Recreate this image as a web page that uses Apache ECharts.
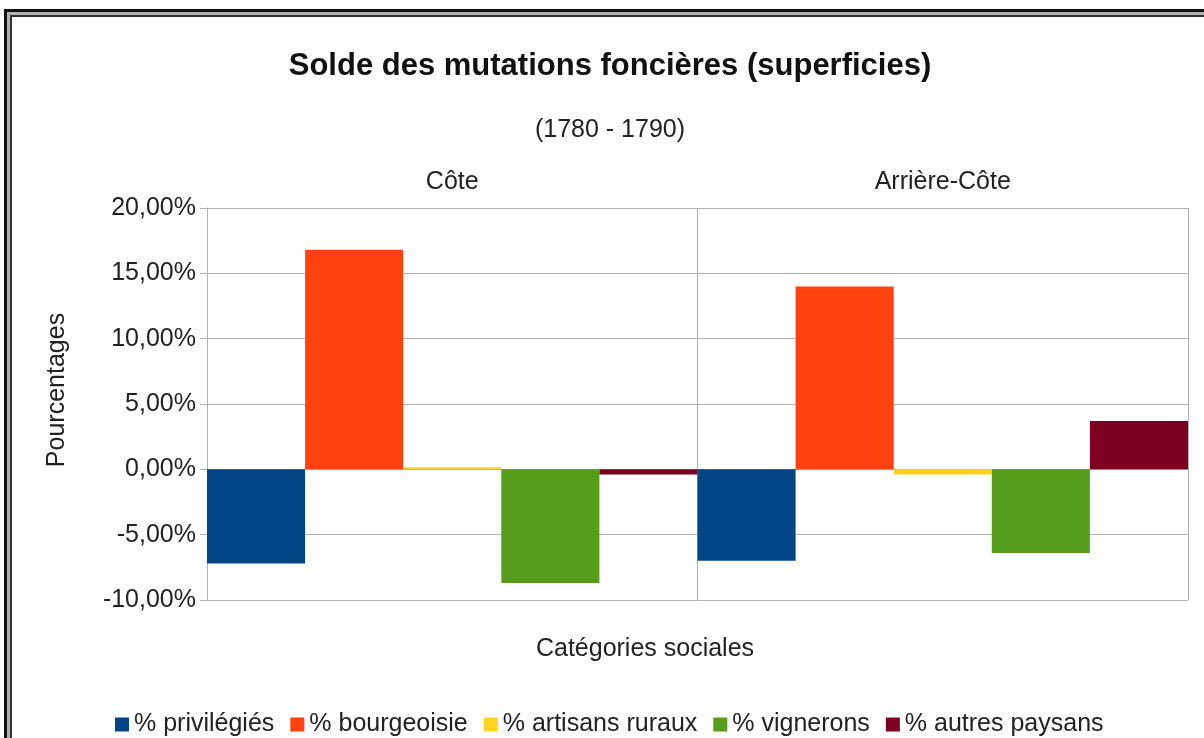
<!DOCTYPE html>
<html>
<head>
<meta charset="utf-8">
<script src="https://cdn.jsdelivr.net/npm/echarts@6/dist/echarts.min.js"></script>
<style>
  html, body { margin: 0; padding: 0; background: #fff; }
  #chart { width: 1204px; height: 738px; }
</style>
</head>
<body>
<div id="chart"></div>
<script>
// donnees (en %)
var categories = ['Côte', 'Arrière-Côte']
var seriesNames = ['% privilégiés', '% bourgeoisie', '% artisans ruraux', '% vignerons', '% autres paysans']
var privilegies = [-7.2, -7.0]
var bourgeoisie = [16.8, 14.0]
var artisansRuraux = [0.15, -0.4]
var vignerons = [-8.7, -6.4]
var autresPaysans = [-0.4, 3.7]
var colors = ['#004586', '#ff420e', '#ffd320', '#579d1c', '#7e0021']

var font = 'Liberation Sans'
var chart = echarts.init(document.getElementById('chart'))

var allValues = [privilegies, bourgeoisie, artisansRuraux, vignerons, autresPaysans]
var series = seriesNames.map(function (name, i) {
    return {
        name: name,
        type: 'bar',
        data: allValues[i],
        barGap: '0%',
        barCategoryGap: '0%',
        itemStyle: { color: colors[i] }
    }
})

var options = {
    animation: false,
    backgroundColor: '#fff',
    textStyle: { fontFamily: font },
    color: colors,
    grid: { left: 207, right: 16, top: 208, bottom: 138 },
    legend: {
        data: seriesNames,
        left: 110,
        top: 707,
        icon: 'rect',
        itemWidth: 14,
        itemHeight: 14,
        itemGap: 16,
        textStyle: { fontSize: 25, color: '#222', fontFamily: font }
    },
    xAxis: {
        type: 'category',
        position: 'top',
        data: categories,
        axisLine: { lineStyle: { color: '#b3b3b3' } },
        axisTick: { show: true, length: 8, lineStyle: { color: '#b3b3b3' } },
        splitLine: { show: true, lineStyle: { color: '#b3b3b3' } },
        axisLabel: { fontSize: 25, color: '#222', margin: 13 }
    },
    yAxis: {
        type: 'value',
        min: -10,
        max: 20,
        interval: 5,
        axisLine: { show: true, lineStyle: { color: '#b3b3b3' } },
        axisTick: { show: true, length: 7, lineStyle: { color: '#b3b3b3' } },
        splitLine: { lineStyle: { color: '#b3b3b3' } },
        axisLabel: {
            fontSize: 25,
            color: '#222',
            margin: 11,
            formatter: function (v) { return v.toFixed(2).replace('.', ',') + '%' }
        }
    },
    graphic: [
        // cadre
        { type: 'rect', shape: { x: 5.5, y: 10.5, width: 1400, height: 900 }, style: { fill: null, stroke: '#111', lineWidth: 3 }, silent: true },
        { type: 'rect', shape: { x: 8.5, y: 13.5, width: 1400, height: 900 }, style: { fill: null, stroke: '#b0b0b0', lineWidth: 3 }, silent: true },
        { type: 'rect', shape: { x: 11, y: 16, width: 1400, height: 900 }, style: { fill: null, stroke: '#333', lineWidth: 2 }, silent: true },
        { type: 'text', x: 610, y: 66, style: { text: 'Solde des mutations foncières (superficies)', font: 'bold 31px "Liberation Sans"', fill: '#111', textAlign: 'center', textVerticalAlign: 'middle' } },
        { type: 'text', x: 610, y: 130, style: { text: '(1780 - 1790)', font: '25px "Liberation Sans"', fill: '#222', textAlign: 'center', textVerticalAlign: 'middle' } },
        { type: 'text', x: 57, y: 390, rotation: Math.PI / 2, style: { text: 'Pourcentages', font: '25px "Liberation Sans"', fill: '#222', textAlign: 'center', textVerticalAlign: 'middle' } },
        { type: 'text', x: 645, y: 649, style: { text: 'Catégories sociales', font: '25px "Liberation Sans"', fill: '#222', textAlign: 'center', textVerticalAlign: 'middle' } }
    ],
    series: series
}

chart.setOption(options)
</script>
</body>
</html>
